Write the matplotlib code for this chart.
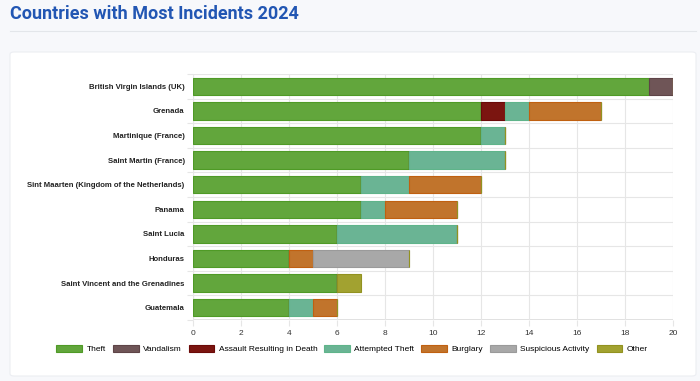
import numpy as np
import matplotlib.pyplot as plt
from matplotlib.patches import FancyBboxPatch

countries = ["British Virgin Islands (UK)", "Grenada", "Martinique (France)",
             "Saint Martin (France)", "Sint Maarten (Kingdom of the Netherlands)",
             "Panama", "Saint Lucia", "Honduras", "Saint Vincent and the Grenadines",
             "Guatemala"]
categories = ["Theft", "Vandalism", "Assault Resulting in Death", "Attempted Theft",
              "Burglary", "Suspicious Activity", "Other"]
theft      = [19, 12, 12, 9, 7, 7, 6, 4, 6, 4]
vandalism  = [1, 0, 0, 0, 0, 0, 0, 0, 0, 0]
assault    = [0, 1, 0, 0, 0, 0, 0, 0, 0, 0]
attempted  = [0, 1, 1, 4, 2, 1, 5, 0, 0, 1]
burglary   = [0, 3, 0, 0, 3, 3, 0, 1, 0, 1]
suspicious = [0, 0, 0, 0, 0, 0, 0, 4, 0, 0]
other      = [0, 0, 0, 0, 0, 0, 0, 0, 1, 0]
series = [theft, vandalism, assault, attempted, burglary, suspicious, other]

fills = ["#62a63c", "#6f5557", "#7b1510", "#6ab494", "#c1742c", "#a8a8a8", "#a2a230"]
edges = ["#4f9a26", "#5e4447", "#6b0a08", "#5fb48a", "#c06010", "#9a9a9a", "#929220"]

plt.rcParams["font.family"] = ["Liberation Sans", "DejaVu Sans"]

fig = plt.figure(figsize=(7, 3.81), dpi=100, facecolor="#f7f8fb")

# white card
card = FancyBboxPatch((10 / 700, 5 / 381), 686 / 700, 324 / 381,
                      boxstyle="round,pad=0,rounding_size=0.006",
                      transform=fig.transFigure, facecolor="white",
                      edgecolor="#eceef2", linewidth=0.8, zorder=-5)
fig.patches.append(card)

fig.text(10 / 700, 1 - 14 / 381, "Countries with Most Incidents 2024",
         fontsize=13, fontweight="bold", color="#2256b3", va="center",
         family=["Roboto", "DejaVu Sans"])
fig.add_artist(plt.Line2D([10 / 700, 696 / 700], [1 - 31 / 381, 1 - 31 / 381],
                          transform=fig.transFigure, color="#e3e6ea", linewidth=0.8))

ax = fig.add_axes([193 / 700, 1 - 320 / 381, 480 / 700, 246 / 381])
ax.set_facecolor("white")
y = np.arange(len(countries))
left = np.zeros(len(countries))
for vals, name, fc, ec in zip(series, categories, fills, edges):
    vals = np.array(vals, dtype=float)
    ax.barh(y, vals, left=left, height=0.7, color=fc, edgecolor=ec,
            linewidth=0.8, label=name, zorder=3)
    left += vals

ax.set_xlim(0, 20)
ax.set_xticks(range(0, 21, 2))
ax.set_ylim(len(countries) - 0.5, -0.5)
ax.set_yticks(y)
ax.set_yticklabels(countries)
ax.set_yticks(np.arange(-0.5, len(countries), 1), minor=True)
ax.grid(True, axis="x", color="#e6e6e6", linewidth=0.8, zorder=0)
ax.grid(True, axis="y", which="minor", color="#e6e6e6", linewidth=0.8, zorder=0)
ax.tick_params(axis="y", which="major", length=0, labelsize=5.6, pad=6)
ax.tick_params(axis="y", which="minor", length=4, color="#e6e6e6", width=0.8)
ax.tick_params(axis="x", length=4, color="#e6e6e6", width=0.8, labelsize=6, pad=3)
for lab in ax.get_yticklabels():
    lab.set_fontweight("bold")
    lab.set_color("#222222")
for lab in ax.get_xticklabels():
    lab.set_color("#333333")
for s in ax.spines.values():
    s.set_visible(False)
ax.axvline(0, color="#e0e0e0", linewidth=0.8, zorder=1)
ax.axhline(len(countries) - 0.5, color="#dcdcdc", linewidth=1.2, zorder=1)

fig.legend(loc="center", bbox_to_anchor=(352 / 700, 1 - 349 / 381), ncol=7,
           frameon=False, fontsize=6, handlelength=3.1, handleheight=0.9,
           columnspacing=0.85, handletextpad=0.5)

fig.savefig("out.png", dpi=100, facecolor=fig.get_facecolor())
